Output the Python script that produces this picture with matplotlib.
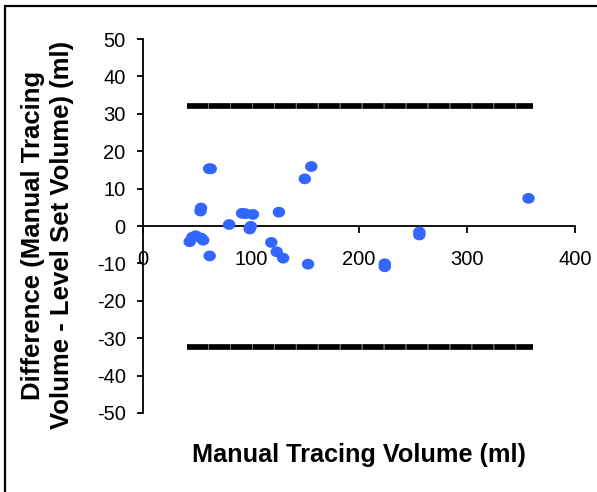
import numpy as np
import matplotlib
matplotlib.use('Agg')
import matplotlib.pyplot as plt
from matplotlib.patches import Rectangle

plt.rcParams['font.family'] = ['Liberation Sans', 'DejaVu Sans']
plt.rcParams['lines.scale_dashes'] = False
plt.rcParams['axes.unicode_minus'] = False

# manual tracing volume (ml) and difference manual - level set (ml)
manual_vol = [43.5, 46, 49, 54, 56, 53.5, 54, 61.5, 63, 62, 80, 92, 95, 102, 99, 100,
              119, 124, 130, 126, 150, 156, 153, 224, 224, 256, 256, 357]
diff_vol = [-4.2, -3.0, -2.6, -3.2, -3.8, 4.0, 4.8, 15.3, 15.3, -8.0, 0.4, 3.4, 3.3, 3.1, -0.8, -0.1,
            -4.4, -6.9, -8.6, 3.7, 12.6, 15.9, -10.2, -10.1, -10.9, -1.6, -2.4, 7.4]

# limits of agreement
loa_x = [41, 361]
loa_upper = 32.0
loa_lower = -32.3

xticks = [0, 100, 200, 300, 400]
yticks = list(range(-50, 51, 10))

fig = plt.figure(figsize=(5.97, 4.92), dpi=100)
ax = fig.add_axes([0.239, 0.1606, 0.9631 - 0.239, 0.9207 - 0.1606])

# slightly wide ellipse marker like the excel dots
t = np.linspace(0, 2 * np.pi, 40)
ell = np.c_[1.15 * np.cos(t), np.sin(t)]
ax.scatter(manual_vol, diff_vol, marker=ell, s=80, color='#3366ff', edgecolors='none', zorder=3)

for yv in [loa_upper, loa_lower]:
    ax.plot(loa_x, [yv, yv], color='black', lw=4.1, dashes=(15.2, 0.6),
            gapcolor='0.45', solid_capstyle='butt', dash_capstyle='butt', zorder=2)

ax.set_xlim(0, 400)
ax.set_ylim(-50, 50)
ax.set_xticks(xticks)
ax.set_yticks(yticks)

ax.spines['left'].set_position(('data', 0))
ax.spines['bottom'].set_position(('data', 0))
ax.spines['top'].set_visible(False)
ax.spines['right'].set_visible(False)
for s in ['left', 'bottom']:
    ax.spines[s].set_linewidth(1.3)

ax.tick_params(axis='x', direction='out', length=5, width=1.3, labelsize=14.5, pad=12)
ax.tick_params(axis='y', direction='out', length=4.2, width=1.3, labelsize=14.5, pad=8)

fig.text(0.601, 0.0616, 'Manual Tracing Volume (ml)', ha='center', va='baseline',
         fontsize=18.2, fontweight='bold')
fig.text(0.0796, 0.522, 'Difference (Manual Tracing\nVolume - Level Set Volume) (ml)',
         ha='center', va='center', rotation=90, multialignment='center',
         fontsize=18.5, fontweight='bold', linespacing=1.3)

# outer frame
fig.add_artist(Rectangle((5 / 597, -0.1), 1.2, 1 - 6 / 492 + 0.1, transform=fig.transFigure,
                         fill=False, lw=1.6, edgecolor='black'))

fig.savefig('out.png', dpi=100)
